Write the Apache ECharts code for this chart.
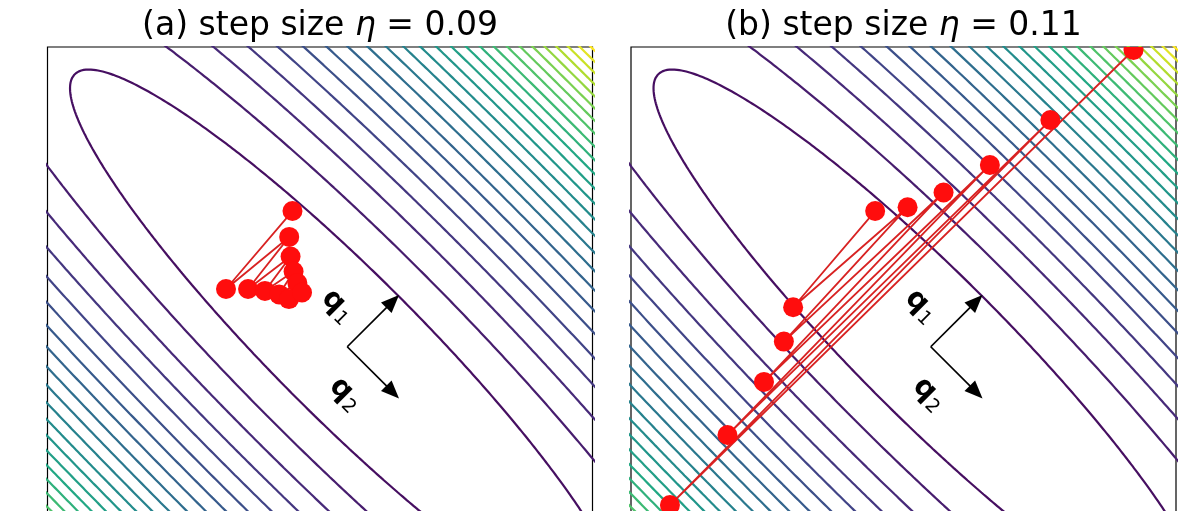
<!DOCTYPE html>
<html><head><meta charset="utf-8">
<script src="https://cdn.jsdelivr.net/npm/echarts@6/dist/echarts.min.js"></script>
<style>html,body{margin:0;padding:0;background:#fff;overflow:hidden;width:1204px;height:511px}#c{width:1204px;height:600px}</style>
</head><body><div id="c"></div>
<script>
// ---- data ----
const panelLabels = ['(a)', '(b)'];
const stepSizes = ['0.09', '0.11'];
const minimizer = [0.1, -0.1];
const eigenvalues = [20, 0.7];
const contourLevels = [0.7,1.5,2.3,3.1,3.9,4.7,5.5,6.3,7.1,7.9,8.7,9.5,10.3,11.1,11.9,12.7,13.5,14.3,15.1,15.9,16.7,17.5,18.3,19.1,19.9];
const levelRange = [-0.1, 19.9];
const pathAx = [-0.101,-0.345,-0.113,-0.264,-0.108,-0.202,-0.097,-0.150,-0.083,-0.114,-0.066];
const pathAy = [0.398,0.112,0.303,0.112,0.231,0.105,0.176,0.092,0.134,0.075,0.099];
const pathBx = [-0.104,-0.405,0.015,-0.439,0.147,-0.512,0.317,-0.646,0.539,-0.857,0.844];
const pathBy = [0.398,0.045,0.412,-0.081,0.466,-0.229,0.567,-0.424,0.732,-0.681,0.989];
const arrowVectors = [[0.19,0.19],[0.19,-0.19]];
const arrowSubscripts = ['1','2'];
const labelPositions = [[0.066,0.050],[0.095,-0.273]];

// ---- style ----
const viridisStops = ['#440154','#482475','#414487','#355f8d','#2a788e','#21918c','#22a884','#44bf70','#7ad151','#bddf26','#fde725'];
function hex2rgb(h){return [parseInt(h.slice(1,3),16),parseInt(h.slice(3,5),16),parseInt(h.slice(5,7),16)];}
function viridis(t){
  t=Math.max(0,Math.min(1,t)); const s=t*(viridisStops.length-1); const i=Math.min(Math.floor(s),viridisStops.length-2); const f=s-i;
  const a=hex2rgb(viridisStops[i]), b=hex2rgb(viridisStops[i+1]);
  return 'rgb('+a.map((v,k)=>Math.round(v+(b[k]-v)*f)).join(',')+')';
}
function ellipse(level){
  const au=Math.sqrt(2*level/eigenvalues[0]), av=Math.sqrt(2*level/eigenvalues[1]);
  const pts=[]; const N=3000;
  for(let j=0;j<=N;j++){const t=2*Math.PI*j/N; const u=au*Math.cos(t), v=av*Math.sin(t);
    pts.push([minimizer[0]+(u+v)*Math.SQRT1_2, minimizer[1]+(u-v)*Math.SQRT1_2]);}
  return pts;
}
const paths = [pathAx.map((x,i)=>[x,pathAy[i]]), pathBx.map((x,i)=>[x,pathBy[i]])];
const grids = [{left:47.5, top:47, width:545, height:545},{left:631, top:47, width:545, height:545}];
const series = [];
const graphics = [];
[0,1].forEach(p=>{
  contourLevels.forEach(L=>{
    series.push({type:'line', xAxisIndex:p, yAxisIndex:p, data:ellipse(L), symbol:'none', showSymbol:false,
      lineStyle:{color:viridis((L-levelRange[0])/(levelRange[1]-levelRange[0])), width:2.2}, silent:true, animation:false, clip:true, z:1});
  });
  series.push({type:'line', xAxisIndex:p, yAxisIndex:p, data:paths[p], symbol:'none', showSymbol:false,
    lineStyle:{color:'#d82222', width:1.8}, silent:true, animation:false, clip:true, z:3});
  series.push({type:'custom', xAxisIndex:p, yAxisIndex:p, coordinateSystem:'cartesian2d', data:paths[p], clip:true, silent:true, animation:false, z:4,
    renderItem:(params,api)=>{const c=api.coord([api.value(0),api.value(1)]); return {type:'circle', shape:{cx:c[0],cy:c[1],r:10}, style:{fill:'#ff0d0d'}};}});
  series.push({type:'custom', xAxisIndex:p, yAxisIndex:p, coordinateSystem:'cartesian2d', clip:false, silent:true, animation:false, z:5,
    data:arrowVectors.map(v=>[minimizer[0],minimizer[1],minimizer[0]+v[0],minimizer[1]+v[1]]),
    renderItem:(params,api)=>{
      const a=api.coord([api.value(0),api.value(1)]), b=api.coord([api.value(2),api.value(3)]);
      const dx=b[0]-a[0], dy=b[1]-a[1], len=Math.hypot(dx,dy), ux=dx/len, uy=dy/len;
      const hl=18, hw=7.5; const bx=b[0]-ux*hl, by=b[1]-uy*hl;
      return {type:'group', children:[
        {type:'line', shape:{x1:a[0],y1:a[1],x2:bx+ux*2,y2:by+uy*2}, style:{stroke:'#000', lineWidth:1.7}},
        {type:'polygon', shape:{points:[[b[0],b[1]],[bx-uy*hw,by+ux*hw],[bx+uy*hw,by-ux*hw]]}, style:{fill:'#000'}}
      ]};
    }});
  series.push({type:'custom', xAxisIndex:p, yAxisIndex:p, coordinateSystem:'cartesian2d', clip:false, silent:true, animation:false, z:5,
    data:labelPositions.map((q,i)=>[q[0],q[1],i]),
    renderItem:(params,api)=>{
      const c=api.coord([api.value(0),api.value(1)]); const i=api.value(2);
      return {type:'text', x:c[0], y:c[1], rotation:-Math.PI/4,
        style:{text:'{b|q}{s|'+arrowSubscripts[i]+'}', align:'center', verticalAlign:'middle',
          rich:{b:{fontFamily:'DejaVu Sans', fontWeight:'bold', fontSize:29, fill:'#000', lineHeight:32},
                s:{fontFamily:'DejaVu Sans', fontSize:19, fill:'#000', lineHeight:32, padding:[15,0,0,1]}}}};
    }});
  graphics.push({type:'text', x:grids[p].left+grids[p].width/2, y:26, silent:true,
    style:{text:panelLabels[p]+' step size {i|η} = '+stepSizes[p], fontFamily:'DejaVu Sans', fontSize:33, fill:'#000', align:'center', verticalAlign:'middle',
      rich:{i:{fontFamily:'DejaVu Sans', fontStyle:'italic', fontSize:33, fill:'#000'}}}});
});
const axisCommon = {type:'value', min:-1, max:1, show:true, axisLine:{show:false}, axisTick:{show:false}, axisLabel:{show:false}, splitLine:{show:false}};
const chart = echarts.init(document.getElementById('c'), null, {renderer:'canvas'});
chart.setOption({
  animation:false, backgroundColor:'#fff',
  grid: grids.map(g=>Object.assign({show:true, borderColor:'#000', borderWidth:1.2, backgroundColor:'#fff'}, g)),
  xAxis:[0,1].map(i=>Object.assign({gridIndex:i}, axisCommon)),
  yAxis:[0,1].map(i=>Object.assign({gridIndex:i}, axisCommon)),
  series: series,
  graphic: graphics
});
</script></body></html>
